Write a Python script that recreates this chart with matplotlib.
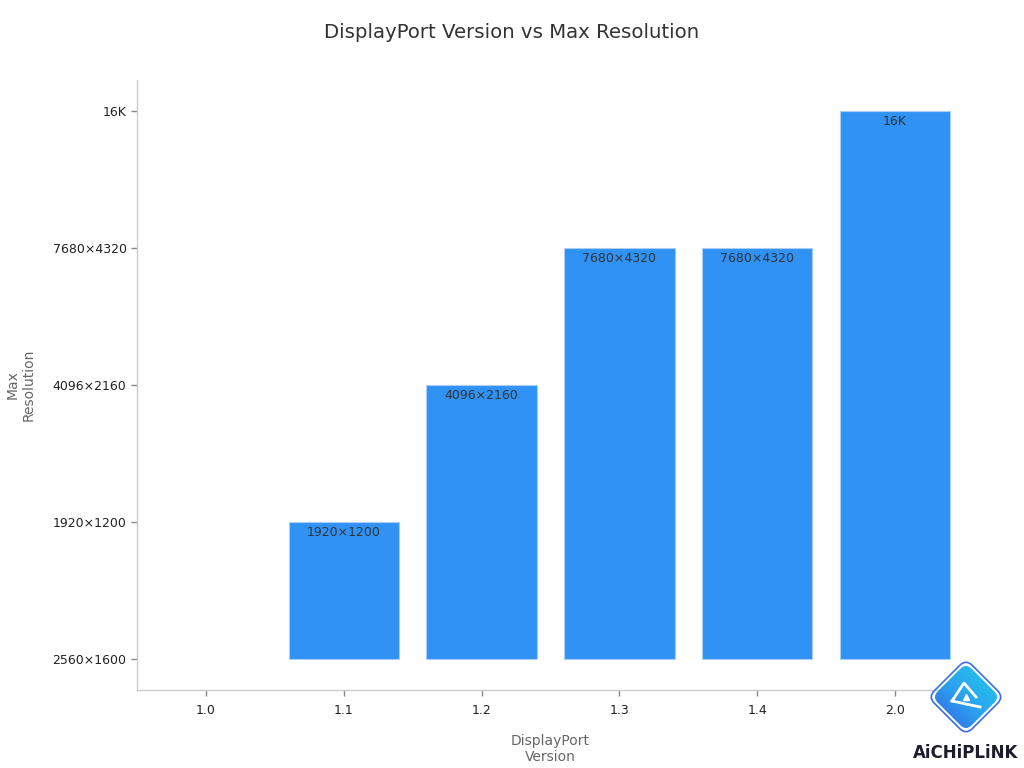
import matplotlib
matplotlib.use("Agg")
import matplotlib.pyplot as plt
import numpy as np
from matplotlib.patches import FancyBboxPatch
from matplotlib.transforms import Affine2D
from matplotlib.colors import LinearSegmentedColormap

versions = ['1.0', '1.1', '1.2', '1.3', '1.4', '2.0']
resolution_levels = ['2560×1600', '1920×1200', '4096×2160', '7680×4320', '16K']
max_resolution = ['2560×1600', '1920×1200', '4096×2160', '7680×4320', '7680×4320', '16K']

title = 'DisplayPort Version vs Max Resolution'
x_title = 'DisplayPort\nVersion'
y_title = 'Max\nResolution'

plt.rcParams['font.family'] = ['DejaVu Sans']
fig = plt.figure(figsize=(10.24, 7.68), dpi=100)
ax = fig.add_axes([137/1024, 1 - 690/768, (964-137)/1024, (690-80)/768])

xpos = np.arange(len(versions))
heights = [resolution_levels.index(v) for v in max_resolution]
bars = ax.bar(xpos, heights, width=0.8, color='#3092F5', edgecolor='#a9cdf5', linewidth=0.8)
for b, h in zip(bars, heights):
    if h == 0:
        b.set_linewidth(0)

for x, h, lab in zip(xpos, heights, max_resolution):
    if h > 0:
        ax.annotate(lab, (x, h), xytext=(0, -7.5), textcoords='offset points',
                    ha='center', va='center', fontsize=9, color='#333333')

ax.set_xticks(xpos)
ax.set_xticklabels(versions)
ax.set_yticks(range(len(resolution_levels)))
ax.set_yticklabels(resolution_levels)
ax.set_xlim(-0.5, len(versions) - 0.5)
ax.set_ylim(-0.226, len(resolution_levels) - 1 + 0.226)

for s in ['top', 'right']:
    ax.spines[s].set_visible(False)
for s in ['left', 'bottom']:
    ax.spines[s].set_color('#cccccc')
    ax.spines[s].set_linewidth(1)
ax.tick_params(axis='both', colors='#888888', labelcolor='#222222', labelsize=9, length=4, width=1)
ax.tick_params(axis='x', pad=6)

ax.set_xlabel(x_title, fontsize=10, color='#666666', labelpad=12)
ax.set_ylabel(y_title, fontsize=10, color='#666666', labelpad=12)

fig.text(0.5, 1 - 33/768, title, ha='center', va='center', fontsize=14.2, color='#333333')

# watermark logo
cx, cy, half = 966, 697, 40
lax = fig.add_axes([(cx-half)/1024, 1 - (cy+half)/768, 2*half/1024, 2*half/768])
lax.set_xlim(-1, 1); lax.set_ylim(-1, 1); lax.axis('off')
grad = np.linspace(0, 1, 256)
g = (np.outer(np.ones(256), grad) + np.outer(grad[::-1], np.ones(256))) / 2
cmap = LinearSegmentedColormap.from_list('lg', ['#3a4fe0', '#2aa6f0', '#22d3e6'])
im = lax.imshow(g, extent=[-1, 1, -1, 1], cmap=cmap, origin='upper', aspect='auto')
box = FancyBboxPatch((-0.6, -0.6), 1.2, 1.2, boxstyle='round,pad=0,rounding_size=0.2',
                     transform=Affine2D().rotate_deg(45) + lax.transData,
                     facecolor='none', edgecolor='none')
lax.add_patch(box)
im.set_clip_path(box)
outline = FancyBboxPatch((-0.67, -0.67), 1.34, 1.34, boxstyle='round,pad=0,rounding_size=0.22',
                         transform=Affine2D().rotate_deg(45) + lax.transData,
                         facecolor='none', edgecolor='#3a6fe8', linewidth=1.2)
lax.add_patch(outline)
lax.plot([-0.35, -0.05, 0.25], [-0.1, 0.35, 0.0], color='white', lw=2)
lax.plot([-0.35, 0.35], [-0.1, -0.25], color='white', lw=2)
lax.plot([0.0], [0.0], marker='^', color='white', ms=4)
fig.text(966/1024, 1 - 753/768, 'AiCHiPLiNK', ha='center', va='center', fontsize=12,
         fontweight='bold', color='#1c1c2c')

fig.savefig('out.png', dpi=100, facecolor='white')
